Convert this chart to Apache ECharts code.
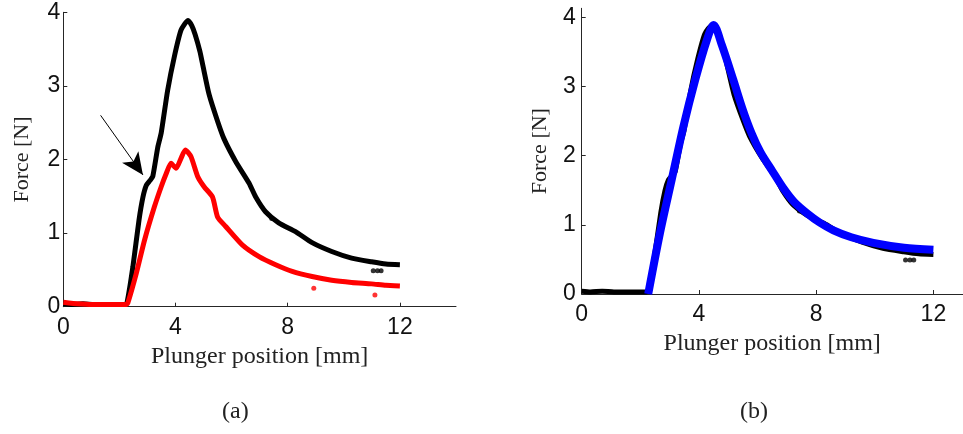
<!DOCTYPE html>
<html>
<head>
<meta charset="utf-8">
<script src="https://cdn.jsdelivr.net/npm/echarts@6/dist/echarts.min.js"></script>
<style>
  html, body { margin: 0; padding: 0; background: #fff; }
  #chart { width: 963px; height: 434px; }
</style>
</head>
<body>
<div id="chart"></div>
<script>
// measured force, sample 1 (black)
var blackX = [0, 0.3, 0.7, 1.1, 1.5, 1.9, 2.2, 2.27, 2.48, 2.70, 2.84, 2.96, 3.10, 3.19, 3.37, 3.49, 3.72, 3.96, 4.20, 4.45, 4.58, 4.70, 4.87, 4.98, 5.20, 5.50, 5.73, 6.15, 6.62, 6.86, 7.21, 7.68, 8.28, 8.87, 9.57, 10.28, 10.99, 11.5, 12.0];
var blackY = [0.04, 0.03, 0.04, 0.03, 0.03, 0.03, 0.03, 0.05, 0.54, 1.18, 1.49, 1.65, 1.72, 1.77, 2.17, 2.36, 2.94, 3.40, 3.76, 3.89, 3.82, 3.70, 3.47, 3.27, 2.88, 2.52, 2.28, 1.97, 1.68, 1.49, 1.29, 1.14, 1.02, 0.87, 0.75, 0.66, 0.61, 0.58, 0.57];
var blackOutX = [7.43, 11.05, 11.2, 11.33];
var blackOutY = [1.20, 0.49, 0.49, 0.49];

// measured force, sample 2 (red)
var redX = [0, 0.2, 0.5, 1.0, 1.5, 2.0, 2.25, 2.30, 2.60, 2.90, 3.25, 3.49, 3.67, 3.84, 4.02, 4.20, 4.35, 4.55, 4.79, 5.02, 5.32, 5.50, 5.79, 6.38, 6.98, 7.57, 8.16, 8.87, 9.57, 10.28, 10.99, 11.5, 12.0];
var redY = [0.06, 0.05, 0.04, 0.03, 0.03, 0.03, 0.03, 0.05, 0.45, 0.91, 1.36, 1.63, 1.81, 1.95, 1.88, 2.02, 2.13, 2.04, 1.77, 1.63, 1.49, 1.22, 1.09, 0.84, 0.68, 0.57, 0.48, 0.41, 0.36, 0.33, 0.31, 0.29, 0.28];
var redOutX = [8.93, 11.11];
var redOutY = [0.25, 0.16];

// fitted model (blue)
var fitX = [2.27, 2.67, 3.07, 3.47, 3.87, 4.27, 4.50, 4.78, 5.17, 5.50, 5.80, 6.10, 6.50, 6.88, 7.25, 7.68, 8.13, 8.59, 9.2, 9.95, 11.0, 12.0];
var fitY = [0.00, 0.88, 1.65, 2.42, 3.09, 3.67, 3.89, 3.60, 3.10, 2.66, 2.32, 2.05, 1.78, 1.53, 1.33, 1.17, 1.03, 0.92, 0.82, 0.74, 0.67, 0.64];

var xTicks = [0, 4, 8, 12];
var yTicks = [0, 1, 2, 3, 4];

function pairs(xs, ys) {
    return xs.map(function (x, i) { return [x, ys[i]]; });
}

var axisColor = '#262626';
var serif = '"Liberation Serif", "Times New Roman", serif';
var sans = '"Liberation Sans", Arial, sans-serif';

function xAxis(idx, max, margin) {
    return {
        type: 'value', gridIndex: idx, min: 0, max: max,
        name: 'Plunger position [mm]', nameLocation: 'middle', nameGap: 38,
        nameTextStyle: { fontFamily: serif, fontSize: 24, color: '#222' },
        axisLine: { show: true, lineStyle: { color: axisColor, width: 1 } },
        axisTick: { show: true, inside: true, length: 4, customValues: xTicks, lineStyle: { color: axisColor } },
        axisLabel: { customValues: xTicks, margin: margin, fontFamily: sans, fontSize: 23, color: '#111' },
        splitLine: { show: false }
    };
}
function yAxis(idx, max, margin) {
    return {
        type: 'value', gridIndex: idx, min: 0, max: max,
        name: 'Force [N]', nameLocation: 'middle', nameGap: 30,
        nameTextStyle: { fontFamily: serif, fontSize: 22, color: '#222' },
        axisLine: { show: true, lineStyle: { color: axisColor, width: 1 } },
        axisTick: { show: true, inside: true, length: 4, customValues: yTicks, lineStyle: { color: axisColor } },
        axisLabel: { customValues: yTicks, margin: margin, fontFamily: sans, fontSize: 23, color: '#111' },
        splitLine: { show: false }
    };
}

var chart = echarts.init(document.getElementById('chart'), null, { renderer: 'canvas' });
var option = {
    animation: false,
    backgroundColor: '#fff',
    grid: [
        { left: 63.3, top: 12.3, width: 392.7, height: 294.4, containLabel: false },
        { left: 581.7, top: 8.3, width: 381, height: 285.7, containLabel: false }
    ],
    xAxis: [xAxis(0, 14, 9), xAxis(1, 13, 9.5)],
    yAxis: [yAxis(0, 4, 3), yAxis(1, 4.13, 6)],
    graphic: [
        { type: 'text', left: 222, top: 400, style: { text: '(a)', font: '24px ' + serif, fill: '#222' } },
        { type: 'text', left: 740, top: 400, style: { text: '(b)', font: '24px ' + serif, fill: '#222' } }
    ],
    series: [
        {
            type: 'line', xAxisIndex: 0, yAxisIndex: 0,
            data: pairs(blackX, blackY), smooth: 0.2, showSymbol: false,
            lineStyle: { color: '#000', width: 5 },
            markLine: {
                silent: true, symbol: ['none', 'arrow'], symbolSize: [15, 22],
                label: { show: false },
                lineStyle: { color: '#000', width: 1, type: 'solid' },
                data: [[{ coord: [1.33, 2.60] }, { coord: [2.84, 1.79] }]]
            }
        },
        {
            type: 'scatter', xAxisIndex: 0, yAxisIndex: 0,
            data: pairs(blackOutX, blackOutY), symbolSize: 5, itemStyle: { color: '#000' }
        },
        {
            type: 'line', xAxisIndex: 0, yAxisIndex: 0,
            data: pairs(redX, redY), smooth: 0.2, showSymbol: false,
            lineStyle: { color: '#ff0000', width: 5 }
        },
        {
            type: 'scatter', xAxisIndex: 0, yAxisIndex: 0,
            data: pairs(redOutX, redOutY), symbolSize: 5, itemStyle: { color: '#ff0000' }
        },
        {
            type: 'line', xAxisIndex: 1, yAxisIndex: 1,
            data: pairs(blackX, blackY), smooth: 0.2, showSymbol: false,
            lineStyle: { color: '#000', width: 5 }
        },
        {
            type: 'scatter', xAxisIndex: 1, yAxisIndex: 1,
            data: pairs(blackOutX, blackOutY), symbolSize: 5, itemStyle: { color: '#000' }
        },
        {
            type: 'line', xAxisIndex: 1, yAxisIndex: 1,
            data: pairs(fitX, fitY), smooth: 0.3, showSymbol: false,
            lineStyle: { color: '#0000ff', width: 8 }
        }
    ]
};
chart.setOption(option);
</script>
</body>
</html>
